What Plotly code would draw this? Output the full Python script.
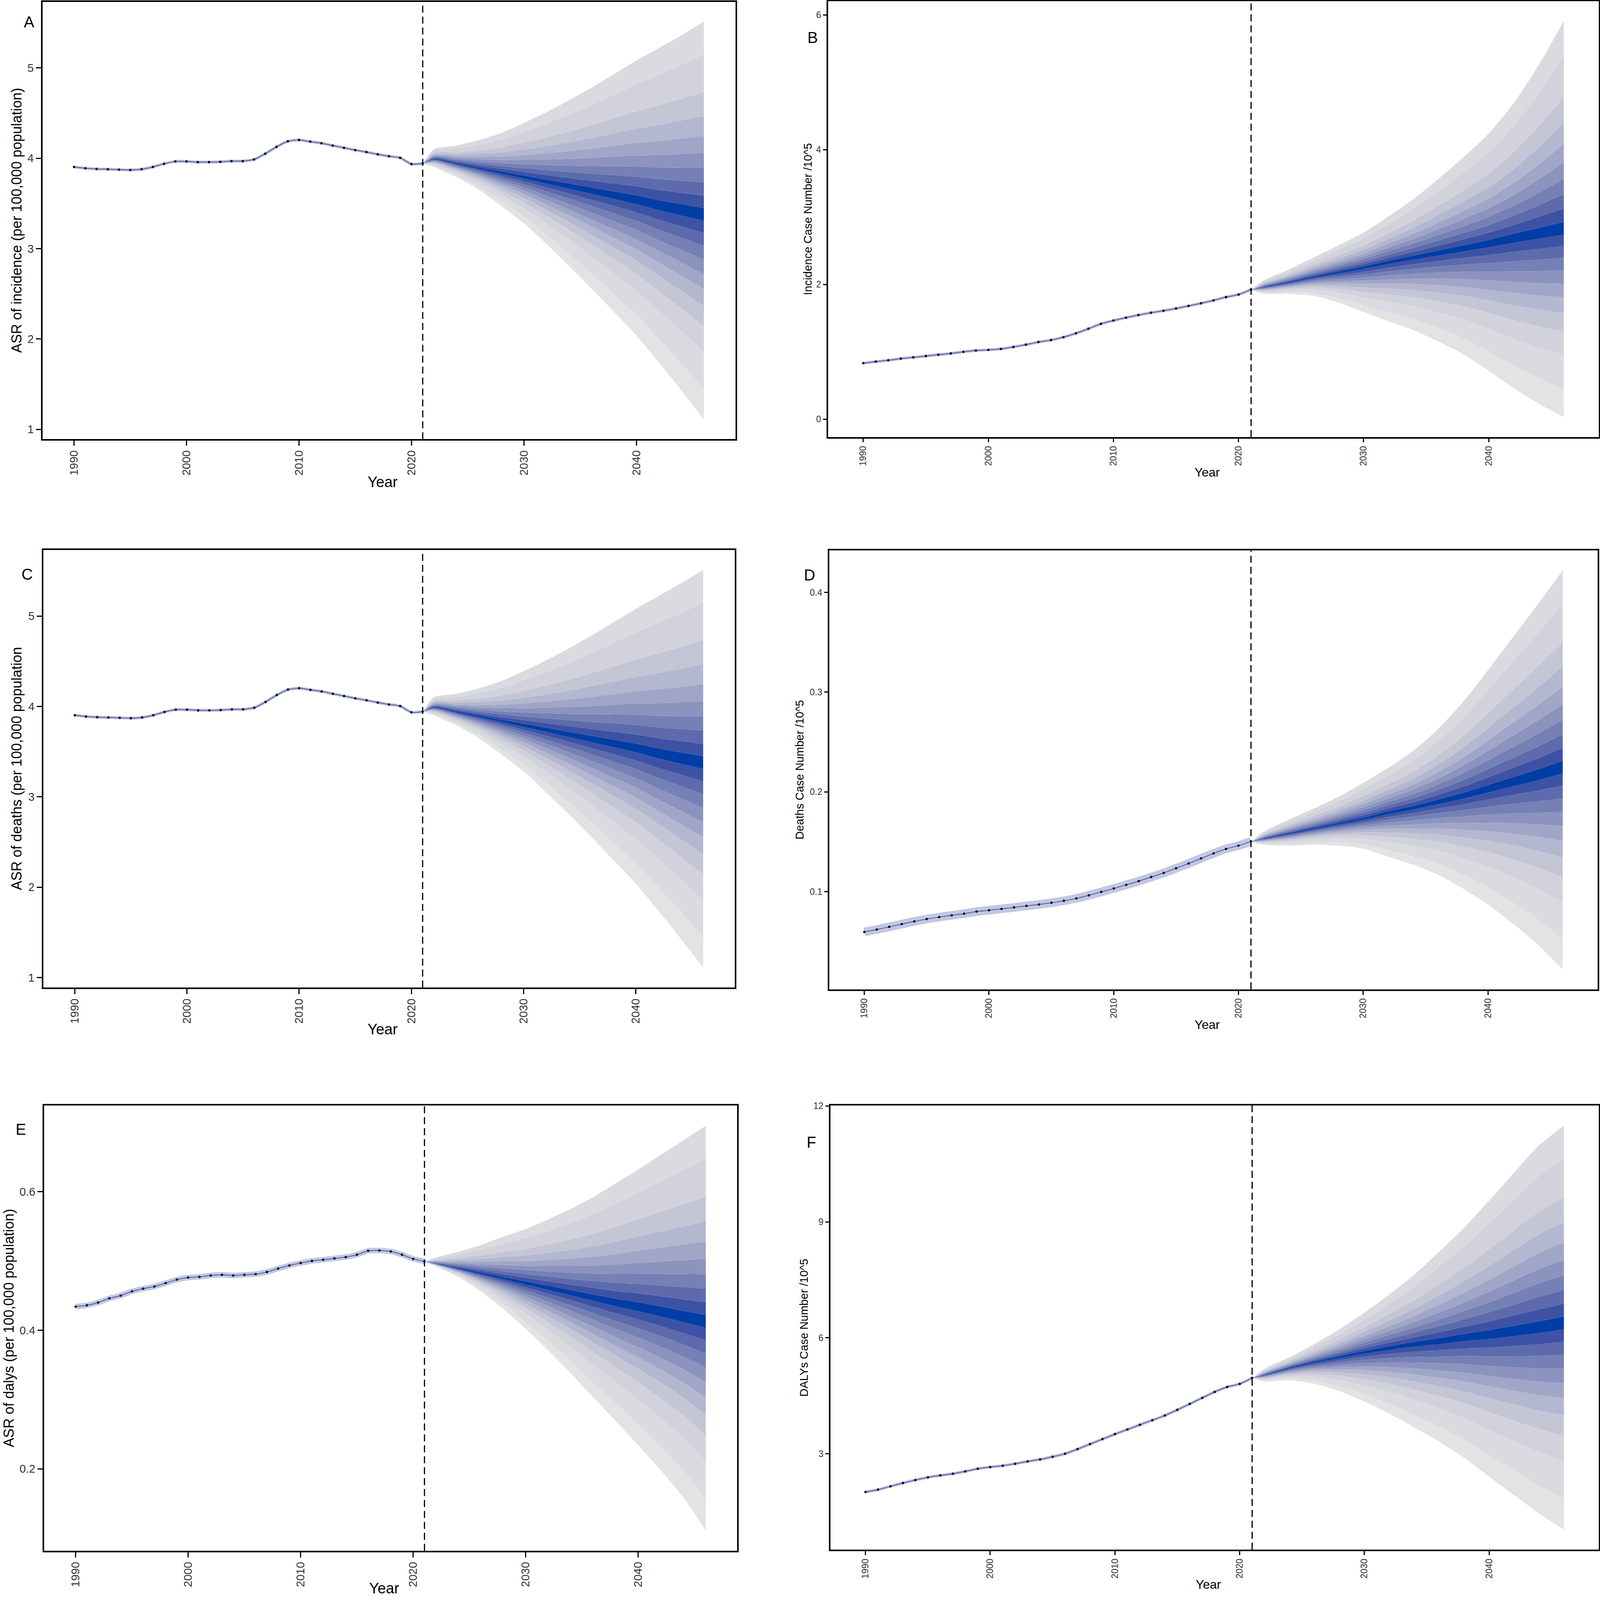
import plotly.graph_objects as go

# ---- data ----
hist_years = list(range(1990, 2022))
proj_years = [2021, 2022, 2024, 2026, 2028, 2030, 2032, 2034, 2036, 2038, 2040, 2042, 2044, 2046]

# A: ASR of incidence
inc_asr_hist = [3.903, 3.889, 3.881, 3.878, 3.874, 3.870, 3.878, 3.903, 3.939, 3.964, 3.964, 3.957,
                3.957, 3.960, 3.968, 3.968, 3.986, 4.050, 4.126, 4.187, 4.202, 4.184, 4.166, 4.140,
                4.115, 4.090, 4.068, 4.043, 4.022, 4.004, 3.935, 3.942]
inc_asr_median = [3.94, 3.99, 3.94, 3.89, 3.84, 3.79, 3.74, 3.69, 3.64, 3.59, 3.54, 3.48, 3.43, 3.38]
inc_asr_upper = [3.94, 4.10, 4.14, 4.20, 4.28, 4.39, 4.51, 4.64, 4.78, 4.93, 5.08, 5.22, 5.36, 5.51]
inc_asr_lower = [3.94, 3.90, 3.79, 3.65, 3.47, 3.28, 3.05, 2.81, 2.56, 2.30, 2.04, 1.74, 1.43, 1.11]

# B: incidence case number /10^5
inc_num_hist = [0.831, 0.855, 0.874, 0.899, 0.918, 0.937, 0.957, 0.976, 1.000, 1.019, 1.029, 1.043,
                1.072, 1.106, 1.145, 1.174, 1.217, 1.275, 1.343, 1.415, 1.464, 1.507, 1.546, 1.580,
                1.609, 1.643, 1.681, 1.720, 1.763, 1.812, 1.850, 1.923]
inc_num_median = [1.92, 1.96, 2.03, 2.11, 2.18, 2.25, 2.33, 2.40, 2.47, 2.54, 2.61, 2.69, 2.76, 2.83]
inc_num_upper = [1.92, 2.06, 2.22, 2.40, 2.58, 2.77, 3.01, 3.27, 3.57, 3.89, 4.24, 4.69, 5.26, 5.91]
inc_num_lower = [1.92, 1.86, 1.86, 1.83, 1.73, 1.59, 1.45, 1.32, 1.15, 0.96, 0.72, 0.46, 0.23, 0.03]

# C: ASR of deaths
death_asr_hist = [3.903, 3.889, 3.881, 3.878, 3.874, 3.870, 3.878, 3.903, 3.939, 3.964, 3.964, 3.957,
                  3.957, 3.960, 3.968, 3.968, 3.986, 4.050, 4.126, 4.187, 4.202, 4.184, 4.166, 4.140,
                  4.115, 4.090, 4.068, 4.043, 4.022, 4.004, 3.935, 3.942]
death_asr_median = [3.94, 3.99, 3.94, 3.89, 3.84, 3.79, 3.74, 3.69, 3.64, 3.59, 3.54, 3.48, 3.43, 3.38]
death_asr_upper = [3.94, 4.10, 4.14, 4.20, 4.28, 4.39, 4.51, 4.64, 4.78, 4.93, 5.08, 5.22, 5.36, 5.51]
death_asr_lower = [3.94, 3.90, 3.79, 3.65, 3.47, 3.28, 3.05, 2.81, 2.56, 2.30, 2.04, 1.74, 1.43, 1.11]

# D: deaths case number /10^5
death_num_hist = [0.0596, 0.0620, 0.0647, 0.0674, 0.0701, 0.0725, 0.0745, 0.0762, 0.0779, 0.0800,
                  0.0813, 0.0827, 0.0841, 0.0857, 0.0871, 0.0888, 0.0908, 0.0932, 0.0963, 0.0997,
                  0.1031, 0.1068, 0.1105, 0.1146, 0.1187, 0.1234, 0.1282, 0.1333, 0.1383, 0.1428,
                  0.1461, 0.1504]
death_num_median = [0.150, 0.153, 0.158, 0.163, 0.168, 0.173, 0.179, 0.184, 0.190, 0.196, 0.203, 0.210, 0.217, 0.225]
death_num_upper = [0.150, 0.160, 0.172, 0.183, 0.195, 0.209, 0.224, 0.241, 0.263, 0.290, 0.322, 0.355, 0.388, 0.422]
death_num_lower = [0.150, 0.147, 0.146, 0.147, 0.146, 0.143, 0.135, 0.127, 0.117, 0.103, 0.087, 0.068, 0.047, 0.022]

# E: ASR of dalys
daly_asr_hist = [0.434, 0.436, 0.440, 0.446, 0.450, 0.456, 0.460, 0.463, 0.468, 0.473, 0.476, 0.477,
                 0.479, 0.480, 0.479, 0.480, 0.481, 0.484, 0.489, 0.4935, 0.497, 0.500, 0.5017, 0.5036,
                 0.5055, 0.509, 0.5146, 0.515, 0.5137, 0.509, 0.503, 0.4993]
daly_asr_median = [0.499, 0.496, 0.489, 0.482, 0.475, 0.468, 0.461, 0.454, 0.447, 0.440, 0.434, 0.427, 0.420, 0.413]
daly_asr_upper = [0.499, 0.505, 0.513, 0.523, 0.535, 0.546, 0.560, 0.575, 0.592, 0.612, 0.632, 0.653, 0.674, 0.695]
daly_asr_lower = [0.499, 0.492, 0.477, 0.456, 0.431, 0.402, 0.371, 0.338, 0.303, 0.269, 0.234, 0.198, 0.159, 0.111]

# F: DALYs case number /10^5
daly_num_hist = [2.010, 2.071, 2.157, 2.243, 2.320, 2.389, 2.441, 2.484, 2.544, 2.613, 2.656, 2.690,
                 2.742, 2.802, 2.854, 2.923, 3.000, 3.120, 3.250, 3.379, 3.508, 3.628, 3.749, 3.869,
                 3.990, 4.136, 4.291, 4.446, 4.601, 4.730, 4.807, 4.962]
daly_num_median = [4.96, 5.04, 5.22, 5.37, 5.50, 5.63, 5.74, 5.84, 5.92, 6.01, 6.09, 6.18, 6.28, 6.39]
daly_num_upper = [4.96, 5.20, 5.50, 5.84, 6.22, 6.65, 7.12, 7.63, 8.23, 8.85, 9.55, 10.27, 10.98, 11.49]
daly_num_lower = [4.96, 4.87, 4.90, 4.81, 4.62, 4.35, 4.04, 3.68, 3.31, 2.90, 2.41, 1.93, 1.46, 1.04]

# relative position of each fan band edge between the median and the outer bound
upper_edge_frac = [0.032, 0.097, 0.166, 0.240, 0.319, 0.408, 0.511, 0.636, 0.830, 1.0]
lower_edge_frac = [0.032, 0.092, 0.155, 0.222, 0.292, 0.365, 0.448, 0.547, 0.671, 0.850, 1.0]
band_colors = ["#003DA5", "#3D52A4", "#5D6BAD", "#7580B5", "#8B93BE", "#A0A6C7",
               "#B3B7CF", "#C4C6D6", "#D1D2DC", "#DADBE0", "#E3E3E4"]

# page size the layout was measured on (pixels)
W, H = 4134, 4229
FONT = "Liberation Sans, Arial, sans-serif"

panels = [
    dict(letter="A", title="ASR of incidence (per 100,000 population)", hist=inc_asr_hist,
         med=inc_asr_median, up=inc_asr_upper, lo=inc_asr_lower, ticks=[1, 2, 3, 4, 5],
         box=(110, 5, 1900, 1161), side="left", glow=8, letter_xy=(75, 58), title_x=43, year_y=1274),
    dict(letter="B", title="Incidence Case Number /10^5", hist=inc_num_hist,
         med=inc_num_median, up=inc_num_upper, lo=inc_num_lower, ticks=[0, 2, 4, 6],
         box=(2140, 3, 4131, 1155), side="right", glow=8, letter_xy=(2100, 99), title_x=2087, year_y=1248),
    dict(letter="C", title="ASR of deaths (per 100,000 population", hist=death_asr_hist,
         med=death_asr_median, up=death_asr_upper, lo=death_asr_lower, ticks=[1, 2, 3, 4, 5],
         box=(112, 1454, 1898, 2610), side="left", glow=8, letter_xy=(70, 1518), title_x=42, year_y=2721),
    dict(letter="D", title="Deaths Case Number /10^5", hist=death_num_hist,
         med=death_num_median, up=death_num_upper, lo=death_num_lower, ticks=[0.1, 0.2, 0.3, 0.4],
         box=(2143, 1455, 4128, 2615), side="right", glow=22, letter_xy=(2092, 1520), title_x=2066, year_y=2708),
    dict(letter="E", title="ASR of dalys (per 100,000 population)", hist=daly_asr_hist,
         med=daly_asr_median, up=daly_asr_upper, lo=daly_asr_lower, ticks=[0.2, 0.4, 0.6],
         box=(114, 2922, 1905, 4099), side="left", glow=14, letter_xy=(54, 2985), title_x=22, year_y=4198),
    dict(letter="F", title="DALYs Case Number /10^5", hist=daly_num_hist,
         med=daly_num_median, up=daly_num_upper, lo=daly_num_lower, ticks=[3, 6, 9, 12],
         box=(2146, 2922, 4131, 4096), side="right", glow=8, letter_xy=(2096, 3019), title_x=2077, year_y=4188),
]

fig = go.Figure()
annotations = []
shapes = []
x_pad = (2046 - 1990) * 0.05

for i, p in enumerate(panels):
    n = "" if i == 0 else str(i + 1)
    xa, ya = "x" + n, "y" + n

    # fan band edges, bottom to top
    edges = []
    for f in reversed(lower_edge_frac):
        edges.append([m - f * (m - lo) for m, lo in zip(p["med"], p["lo"])])
    for f in upper_edge_frac:
        edges.append([m + f * (u - m) for m, u in zip(p["med"], p["up"])])
    colors = [band_colors[k] for k in range(len(lower_edge_frac) - 1, 0, -1)]
    colors += [band_colors[0]] + [band_colors[k] for k in range(1, len(upper_edge_frac))]

    for j, e in enumerate(edges):
        tr = dict(x=proj_years, y=e, mode="lines", xaxis=xa, yaxis=ya, hoverinfo="skip",
                  line=dict(width=0, shape="spline", smoothing=0.7), showlegend=False)
        if j > 0:
            tr["fill"] = "tonexty"
            tr["fillcolor"] = colors[j - 1]
        fig.add_trace(go.Scatter(**tr))

    # history with its light uncertainty glow
    fig.add_trace(go.Scatter(x=hist_years, y=p["hist"], mode="lines", xaxis=xa, yaxis=ya,
                             line=dict(color="rgba(120,130,195,0.45)", width=p["glow"], shape="spline", smoothing=0.5),
                             showlegend=False, hoverinfo="skip"))
    fig.add_trace(go.Scatter(x=hist_years, y=p["hist"], mode="lines+markers", xaxis=xa, yaxis=ya,
                             line=dict(color="#4A5699", width=2, shape="spline", smoothing=0.5),
                             marker=dict(color="black", size=6), showlegend=False))

    # axis ranges: data range plus 5 %
    all_vals = p["hist"] + p["up"] + p["lo"]
    lo_v, hi_v = min(all_vals), max(all_vals)
    y_pad = (hi_v - lo_v) * 0.05

    x0, y0, x1, y1 = p["box"]
    big = p["side"] == "left"
    tick_size = 29 if big else 23
    common = dict(showline=True, mirror=True, linecolor="black", linewidth=3.5,
                  ticks="outside", ticklen=13 if big else 10, tickwidth=3, tickcolor="black",
                  showgrid=False, zeroline=False, automargin=False,
                  tickfont=dict(family=FONT, size=tick_size, color="#333333"))
    fig.update_layout(**{
        "xaxis" + n: dict(common, domain=[x0 / W, x1 / W], anchor=ya,
                          range=[1990 - x_pad, 2046 + x_pad],
                          tickvals=[1990, 2000, 2010, 2020, 2030, 2040], tickangle=-90),
        "yaxis" + n: dict(common, domain=[1 - y1 / H, 1 - y0 / H], anchor=xa,
                          range=[lo_v - y_pad, hi_v + y_pad], tickvals=p["ticks"],
                          ticktext=[("%g" % t) for t in p["ticks"]]),
    })

    shapes.append(dict(type="line", xref=xa, yref=ya + " domain", x0=2021, x1=2021, y0=0, y1=1,
                       line=dict(color="black", width=3, dash="18px,10px")))

    annotations.append(dict(text=p["title"], x=p["title_x"] / W, y=1 - (y0 + y1) / 2 / H,
                            xref="paper", yref="paper", showarrow=False, textangle=-90,
                            xanchor="center", yanchor="middle",
                            font=dict(family=FONT, size=36 if big else 29, color="black")))
    annotations.append(dict(text="Year", x=(x0 + x1) / 2 / W - 0.004, y=1 - p["year_y"] / H,
                            xref="paper", yref="paper", showarrow=False,
                            xanchor="center", yanchor="middle",
                            font=dict(family=FONT, size=38 if big else 32, color="black")))
    annotations.append(dict(text=p["letter"], x=p["letter_xy"][0] / W, y=1 - p["letter_xy"][1] / H,
                            xref="paper", yref="paper", showarrow=False,
                            xanchor="center", yanchor="middle",
                            font=dict(family=FONT, size=40, color="black")))

# fill the browser viewport so nothing falls below the visible page
fig.update_layout(autosize=True,
                  margin=dict(l=0, r=0, t=0, b=0),
                  paper_bgcolor="white", plot_bgcolor="white",
                  shapes=shapes, annotations=annotations, showlegend=False)

fig.write_html("out.html", default_width="100vw", default_height="100vh",
               config={"displayModeBar": False, "responsive": True},
               post_script="document.body.style.margin='0';document.body.style.overflow='hidden';")
